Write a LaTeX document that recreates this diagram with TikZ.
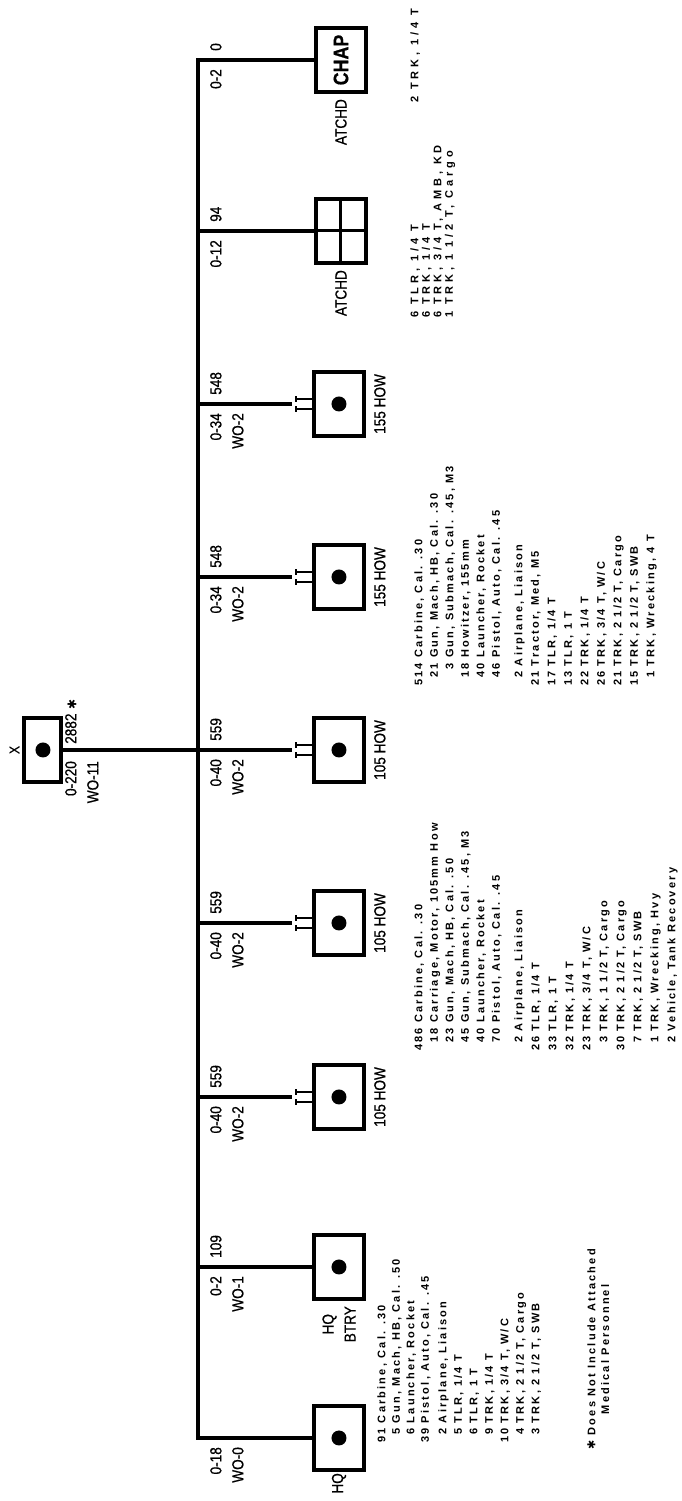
\documentclass[tikz,border=0pt]{standalone}
\usepackage{fontspec}
\setmainfont{Liberation Sans}
\newfontfamily\tagfont[FakeStretch=0.85,FakeBold=0.6]{Liberation Sans}
\newfontfamily\listfont[LetterSpace=20]{Liberation Sans}
\newfontfamily\widelistfont[LetterSpace=35]{Liberation Sans}
\newfontfamily\symfont{DejaVu Sans}
\usetikzlibrary{positioning}

\begin{document}
\begin{tikzpicture}[x=1pt, y=1pt,
    unit/.style={draw, line width=4pt, minimum width=64pt, minimum height=50pt, inner sep=0pt},
    bus/.style={line width=4.5pt, line join=miter},
    axle/.style={line width=1.6pt},
    tag/.style={font=\tagfont\fontsize{16}{22}\selectfont, inner sep=0pt},
    equip/.style={font=\listfont\bfseries\fontsize{11}{#1}\selectfont, inner sep=0pt, anchor=base west},
    wideequip/.style={font=\widelistfont\bfseries\fontsize{11}{#1}\selectfont, inner sep=0pt, anchor=base west}]
\begin{scope}[rotate=90, transform shape]
\useasboundingbox (0,0) rectangle (1501,681);

% units, chart laid out left to right
\node[unit] (hq)     at (63,342)  {};
\node[unit] (hqbtry) at (234,342) {};
\node[unit] (howa)   at (404,342) {};
\node[unit] (howb)   at (578,342) {};
\node[unit] (howc)   at (751,342) {};
\node[unit] (howd)   at (924,342) {};
\node[unit] (howe)   at (1097,342) {};
\node[unit] (med)    at (1270,340) {};
\node[unit] (chap)   at (1441,340) {\tagfont\bfseries\fontsize{21}{21}\selectfont CHAP};
\node[unit, minimum height=37pt] (co) at (751,638) {};
\node[tag, font=\tagfont\fontsize{14}{14}\selectfont, above=3pt of co] (coX) {X};

% dots
\fill (hq.center) circle (7.5pt);
\fill (hqbtry.center) circle (7.5pt);
\fill (howa.center) circle (7.5pt);
\fill (howb.center) circle (7.5pt);
\fill (howc.center) circle (7.5pt);
\fill (howd.center) circle (7.5pt);
\fill (howe.center) circle (7.5pt);
\fill (co.center) circle (7.5pt);

% medical box quarters
\draw[line width=3pt] (med.north) -- (med.south);
\draw[line width=3pt] (med.west) -- (med.east);

% bus and branches
\coordinate (busR) at (1441,483);
\coordinate (stub) at (0,389);
\draw[bus] (hq.north) |- (busR) -- (chap.north);
\draw[bus] (hqbtry.north |- busR) -- (hqbtry.north);
\draw[bus] (howa.north |- busR) -- (howa.north |- stub);
\draw[bus] (howb.north |- busR) -- (howb.north |- stub);
\draw[bus] (co.south) -- (howc.north |- stub);
\draw[bus] (howd.north |- busR) -- (howd.north |- stub);
\draw[bus] (howe.north |- busR) -- (howe.north |- stub);
\draw[bus] (med.north |- busR) -- (med.north);

% towed symbol above each howitzer box
\draw[axle] (howa.north) ++(-5,0) -- ++(0,16) ++(-3,0) -- ++(6,0);
\draw[axle] (howa.north) ++(5,0) -- ++(0,16) ++(-3,0) -- ++(6,0);
\draw[axle] (howb.north) ++(-5,0) -- ++(0,16) ++(-3,0) -- ++(6,0);
\draw[axle] (howb.north) ++(5,0) -- ++(0,16) ++(-3,0) -- ++(6,0);
\draw[axle] (howc.north) ++(-5,0) -- ++(0,16) ++(-3,0) -- ++(6,0);
\draw[axle] (howc.north) ++(5,0) -- ++(0,16) ++(-3,0) -- ++(6,0);
\draw[axle] (howd.north) ++(-5,0) -- ++(0,16) ++(-3,0) -- ++(6,0);
\draw[axle] (howd.north) ++(5,0) -- ++(0,16) ++(-3,0) -- ++(6,0);
\draw[axle] (howe.north) ++(-5,0) -- ++(0,16) ++(-3,0) -- ++(6,0);
\draw[axle] (howe.north) ++(5,0) -- ++(0,16) ++(-3,0) -- ++(6,0);

% strength figures
\node[tag, anchor=north east, align=right] (hqoff) at (54,471) {0-18\\WO-0};
\node[tag, anchor=north east, align=right] (btryoff) at (225,471) {0-2\\WO-1};
\node[tag, anchor=north west] (btrymen) at (243,471) {109};
\node[tag, anchor=north east, align=right] (howaoff) at (395,471) {0-40\\WO-2};
\node[tag, anchor=north west] (howamen) at (413,471) {559};
\node[tag, anchor=north east, align=right] (howboff) at (569,471) {0-40\\WO-2};
\node[tag, anchor=north west] (howbmen) at (587,471) {559};
\node[tag, anchor=north east, align=right] (howcoff) at (742,471) {0-40\\WO-2};
\node[tag, anchor=north west] (howcmen) at (760,471) {559};
\node[tag, anchor=north east, align=right] (howdoff) at (915,471) {0-34\\WO-2};
\node[tag, anchor=north west] (howdmen) at (933,471) {548};
\node[tag, anchor=north east, align=right] (howeoff) at (1088,471) {0-34\\WO-2};
\node[tag, anchor=north west] (howemen) at (1106,471) {548};
\node[tag, anchor=north east] (medoff) at (1261,471) {0-12};
\node[tag, anchor=north west] (medmen) at (1279,471) {94};
\node[tag, anchor=north east] (chapoff) at (1432,471) {0-2};
\node[tag, anchor=north west] (chapmen) at (1450,471) {0};
\node[tag, anchor=north east, align=right] (cooff) at (740,616) {0-220\\WO-11};
\node[tag, anchor=north west] (comen) at (757,616) {2882 {\symfont\fontsize{12}{12}\selectfont ✱}};

% unit names
\node[tag, left=1pt of hq] (hqname) {HQ};
\node[tag, left=5pt of hqbtry, align=center] (btryname) {HQ\\BTRY};
\node[tag, below=8pt of howa] (howaname) {105 HOW};
\node[tag, below=8pt of howb] (howbname) {105 HOW};
\node[tag, below=8pt of howc] (howcname) {105 HOW};
\node[tag, below=8pt of howd] (howdname) {155 HOW};
\node[tag, below=8pt of howe] (howename) {155 HOW};
\node[tag, left=5pt of med] (medname) {ATCHD};
\node[tag, left=5pt of chap] (chapname) {ATCHD};

% equipment lists
\node[equip=14.5] (hqarms) at (58,295.5) {\begin{tabular}[t]{@{}r@{~}l@{}}
91 & Carbine, Cal. .30\\
5 & Gun, Mach, HB, Cal. .50\\
6 & Launcher, Rocket\\
39 & Pistol, Auto, Cal. .45
\end{tabular}};
\node[equip=15.5] (hqcars) at (58,234.5) {\begin{tabular}[t]{@{}r@{~}l@{}}
2 & Airplane, Liaison\\
5 & TLR, 1/4 T\\
6 & TLR, 1 T\\
9 & TRK, 1/4 T\\
10 & TRK, 3/4 T, W/C\\
4 & TRK, 2 1/2 T, Cargo\\
3 & TRK, 2 1/2 T, SWB
\end{tabular}};
\node[equip=13.5] (note) at (51,85.5) {\begin{tabular}[t]{@{}c@{}}
{\symfont ✱} Does Not Include Attached\\
Medical Personnel
\end{tabular}};
\node[equip=15.5] (lightarms) at (450,258.5) {\begin{tabular}[t]{@{}r@{~}l@{}}
486 & Carbine, Cal. .30\\
18 & Carriage, Motor, 105mm How\\
23 & Gun, Mach, HB, Cal. .50\\
45 & Gun, Submach, Cal. .45, M3\\
40 & Launcher, Rocket\\
70 & Pistol, Auto, Cal. .45
\end{tabular}};
\node[equip=17] (lightcars) at (450,158.5) {\begin{tabular}[t]{@{}r@{~}l@{}}
2 & Airplane, Liaison\\
26 & TLR, 1/4 T\\
33 & TLR, 1 T\\
32 & TRK, 1/4 T\\
23 & TRK, 3/4 T, W/C\\
3 & TRK, 1 1/2 T, Cargo\\
30 & TRK, 2 1/2 T, Cargo\\
7 & TRK, 2 1/2 T, SWB\\
1 & TRK, Wrecking, Hvy\\
2 & Vehicle, Tank Recovery
\end{tabular}};
\node[equip=15.5] (mediumarms) at (815,258.5) {\begin{tabular}[t]{@{}r@{~}l@{}}
514 & Carbine, Cal. .30\\
21 & Gun, Mach, HB, Cal. .30\\
3 & Gun, Submach, Cal. .45, M3\\
18 & Howitzer, 155mm\\
40 & Launcher, Rocket\\
46 & Pistol, Auto, Cal. .45
\end{tabular}};
\node[equip=16.5] (mediumcars) at (815,158.5) {\begin{tabular}[t]{@{}r@{~}l@{}}
2 & Airplane, Liaison\\
21 & Tractor, Med, M5\\
17 & TLR, 1/4 T\\
13 & TLR, 1 T\\
22 & TRK, 1/4 T\\
26 & TRK, 3/4 T, W/C\\
21 & TRK, 2 1/2 T, Cargo\\
15 & TRK, 2 1/2 T, SWB\\
1 & TRK, Wrecking, 4 T
\end{tabular}};
\node[wideequip=11.5] (medcars) at (1183,262.5) {\begin{tabular}[t]{@{}r@{~}l@{}}
6 & TLR, 1/4 T\\
6 & TRK, 1/4 T\\
6 & TRK, 3/4 T, AMB, KD\\
1 & TRK, 1 1/2 T, Cargo
\end{tabular}};
\node[wideequip=11.5] (chapcars) at (1398,262.5) {2 TRK, 1/4 T};
\end{scope}
\end{tikzpicture}
\end{document}
